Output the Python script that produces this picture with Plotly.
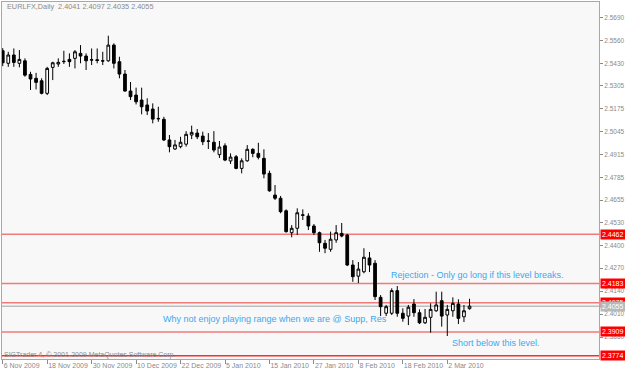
import pandas as pd
import plotly.graph_objects as go

# ---- data -------------------------------------------------------------
dates = [d for d in pd.bdate_range("2009-11-06", "2010-03-08")
         if d.strftime("%m-%d") not in ("12-25", "01-01")]

open_ = [2.5501, 2.5430, 2.5477, 2.5430, 2.5444, 2.5367, 2.5345, 2.5331, 2.5260, 2.5407,
         2.5426, 2.5439, 2.5452, 2.5458, 2.5486, 2.5471, 2.5448, 2.5450, 2.5444, 2.5444,
         2.5533, 2.5439, 2.5369, 2.5273, 2.5250, 2.5222, 2.5194, 2.5171, 2.5118, 2.5113,
         2.4996, 2.4945, 2.4958, 2.4972, 2.5024, 2.5035, 2.5018, 2.4990, 2.4983, 2.4913,
         2.4963, 2.4877, 2.4901, 2.4835, 2.4878, 2.4943, 2.4920, 2.4892, 2.4807, 2.4684,
         2.4666, 2.4595, 2.4471, 2.4496, 2.4572, 2.4565, 2.4509, 2.4471, 2.4411, 2.4377,
         2.4430, 2.4467, 2.4458, 2.4288, 2.4225, 2.4250, 2.4328, 2.4298, 2.4105, 2.4015,
         2.4015, 2.4143, 2.4015, 2.3999, 2.4067, 2.4018, 2.3961, 2.3992, 2.4029, 2.4086,
         2.4005, 2.4029, 2.4067, 2.3995, 2.4041]
high = [2.5516, 2.5495, 2.5514, 2.5505, 2.5458, 2.5382, 2.5376, 2.5345, 2.5410, 2.5439,
        2.5458, 2.5501, 2.5486, 2.5505, 2.5533, 2.5486, 2.5514, 2.5514, 2.5495, 2.5586,
        2.5543, 2.5467, 2.5392, 2.5324, 2.5292, 2.5292, 2.5232, 2.5203, 2.5184, 2.5127,
        2.5024, 2.4996, 2.5014, 2.5046, 2.5077, 2.5058, 2.5043, 2.5035, 2.5046, 2.4990,
        2.4977, 2.4920, 2.4911, 2.4892, 2.4967, 2.4949, 2.4980, 2.4943, 2.4822, 2.4741,
        2.4679, 2.4603, 2.4514, 2.4609, 2.4603, 2.4581, 2.4520, 2.4477, 2.4430, 2.4477,
        2.4514, 2.4526, 2.4465, 2.4316, 2.4305, 2.4383, 2.4362, 2.4316, 2.4118, 2.4062,
        2.4156, 2.4169, 2.4043, 2.4062, 2.4095, 2.4037, 2.4039, 2.4071, 2.4137, 2.4137,
        2.4062, 2.4105, 2.4094, 2.4062, 2.4097]
low = [2.5414, 2.5410, 2.5410, 2.5407, 2.5354, 2.5279, 2.5282, 2.5254, 2.5250, 2.5335,
       2.5410, 2.5426, 2.5410, 2.5401, 2.5430, 2.5392, 2.5420, 2.5430, 2.5420, 2.5439,
       2.5401, 2.5345, 2.5269, 2.5222, 2.5197, 2.5141, 2.5137, 2.5090, 2.5099, 2.4990,
       2.4926, 2.4939, 2.4949, 2.4958, 2.5001, 2.5001, 2.4967, 2.4945, 2.4926, 2.4894,
       2.4876, 2.4860, 2.4830, 2.4807, 2.4873, 2.4898, 2.4886, 2.4779, 2.4703, 2.4656,
       2.4581, 2.4471, 2.4445, 2.4458, 2.4543, 2.4486, 2.4458, 2.4363, 2.4355, 2.4363,
       2.4414, 2.4445, 2.4282, 2.4193, 2.4186, 2.4241, 2.4248, 2.4090, 2.3999, 2.3999,
       2.4005, 2.3995, 2.3967, 2.3948, 2.3995, 2.3954, 2.3954, 2.3905, 2.4023, 2.3939,
       2.3886, 2.3995, 2.3954, 2.3965, 2.4035]
close = [2.5433, 2.5477, 2.5435, 2.5452, 2.5363, 2.5341, 2.5322, 2.5260, 2.5401, 2.5433,
         2.5435, 2.5441, 2.5439, 2.5495, 2.5471, 2.5444, 2.5450, 2.5446, 2.5443, 2.5533,
         2.5430, 2.5369, 2.5273, 2.5241, 2.5212, 2.5184, 2.5160, 2.5114, 2.5116, 2.4996,
         2.4958, 2.4968, 2.4983, 2.5028, 2.5039, 2.5014, 2.4986, 2.4989, 2.4939, 2.4956,
         2.4882, 2.4899, 2.4835, 2.4878, 2.4943, 2.4920, 2.4898, 2.4803, 2.4708, 2.4666,
         2.4590, 2.4477, 2.4496, 2.4584, 2.4570, 2.4509, 2.4471, 2.4414, 2.4383, 2.4434,
         2.4471, 2.4452, 2.4288, 2.4222, 2.4265, 2.4332, 2.4288, 2.4109, 2.4052, 2.4052,
         2.4143, 2.4015, 2.3986, 2.4049, 2.4018, 2.3961, 2.3992, 2.4037, 2.4062, 2.3999,
         2.4037, 2.4071, 2.3986, 2.4029, 2.4055]

levels = [2.4462, 2.4183, 2.4075, 2.3909, 2.3774]
bid = 2.4055

ytick_vals = [2.5690, 2.5560, 2.5430, 2.5305, 2.5175, 2.5045, 2.4915, 2.4785,
              2.4655, 2.4530, 2.4400, 2.4270, 2.4140, 2.4010, 2.3880, 2.3750]
xlabel_dates = ["2009-11-06", "2009-11-18", "2009-11-30", "2009-12-10", "2009-12-22",
                "2010-01-05", "2010-01-15", "2010-01-27", "2010-02-08", "2010-02-18",
                "2010-03-02"]

header = "EURLFX,Daily  2.4041 2.4097 2.4035 2.4055"
copyright_txt = "SIGTrader 4, © 2001-2009 MetaQuotes Software Corp."
notes = [
    ("Rejection - Only go long if this level breaks.", "2010-02-16", 2.4231),
    ("Why not enjoy playing range when we are @ Supp, Res", "2009-12-17", 2.3985),
    ("Short below this level.", "2010-03-03", 2.3847),
]

# ---- figure -----------------------------------------------------------
x = list(range(len(dates)))
date_pos = {d.strftime("%Y-%m-%d"): i for i, d in enumerate(dates)}
tickvals = [date_pos[d] for d in xlabel_dates]
ticktext = [pd.Timestamp(d).strftime("%-d %b %Y") for d in xlabel_dates]

FONT = "Liberation Sans, Arial, sans-serif"
GREY = "#8a8a8a"
BLUE = "#3aa8f0"

fig = go.Figure()
fig.add_trace(go.Candlestick(
    x=x, open=open_, high=high, low=low, close=close,
    increasing=dict(line=dict(color="black", width=1), fillcolor="white"),
    decreasing=dict(line=dict(color="black", width=1), fillcolor="black"),
    whiskerwidth=0, hoverinfo="skip", showlegend=False,
))

for i, lv in enumerate(levels):
    col = "#ff2a2a" if i == len(levels) - 1 else "#f07a7a"
    fig.add_shape(type="line", xref="paper", x0=0, x1=1, yref="y", y0=lv, y1=lv,
                  line=dict(color=col, width=1.5), layer="below")
fig.add_shape(type="line", xref="paper", x0=0, x1=1, yref="y", y0=bid, y1=bid,
              line=dict(color="#a0a0a0", width=1), layer="below")

annotations = []
for lv in levels:
    annotations.append(dict(xref="paper", x=1.0, xanchor="left", yref="y", y=lv,
                            yanchor="middle", text=f"{lv:.4f}", showarrow=False,
                            bgcolor="#ff0000", borderpad=1,
                            font=dict(family=FONT, size=7, color="white"),
                            xshift=1))
annotations.append(dict(xref="paper", x=1.0, xanchor="left", yref="y", y=bid,
                        yanchor="middle", text=f"{bid:.4f}", showarrow=False,
                        bgcolor="#b8b8b8", borderpad=1,
                        font=dict(family=FONT, size=7, color="white"), xshift=1))
for txt, d, yv in notes:
    annotations.append(dict(xref="x", x=date_pos[d], xanchor="left", yref="y", y=yv,
                            yanchor="middle", text=txt, showarrow=False, xshift=-3,
                            font=dict(family=FONT, size=9, color=BLUE)))
annotations.append(dict(xref="paper", x=0.005, xanchor="left", yref="paper", y=0.986,
                        yanchor="middle", text=header, showarrow=False,
                        font=dict(family=FONT, size=7.3, color=GREY)))
annotations.append(dict(xref="paper", x=0.0, xanchor="left", yref="paper", y=0.012,
                        yanchor="middle", text=copyright_txt, showarrow=False,
                        font=dict(family=FONT, size=7, color=GREY)))

fig.update_layout(
    width=625, height=373,
    margin=dict(l=2, r=26, t=2, b=14, autoexpand=False),
    paper_bgcolor="white", plot_bgcolor="#f8f8f8",
    annotations=annotations,
    xaxis=dict(range=[-0.13, 107.3], rangeslider=dict(visible=False),
               tickvals=tickvals, ticktext=ticktext, tickangle=0, automargin=False,
               ticks="outside", ticklen=4, tickcolor=GREY,
               ticklabelposition="outside right",
               tickfont=dict(family=FONT, size=7, color=GREY),
               showgrid=False, zeroline=False,
               showline=True, mirror=True, linecolor="#a8a8a8", linewidth=1),
    yaxis=dict(range=[2.3756, 2.5777], side="right", automargin=False,
               tickvals=ytick_vals, ticktext=[f"{v:.4f}" for v in ytick_vals],
               ticks="outside", ticklen=3, tickcolor=GREY,
               tickfont=dict(family=FONT, size=6.5, color=GREY),
               showgrid=False, zeroline=False,
               showline=True, mirror=True, linecolor="#a8a8a8", linewidth=1),
)

fig.write_html("out.html")
